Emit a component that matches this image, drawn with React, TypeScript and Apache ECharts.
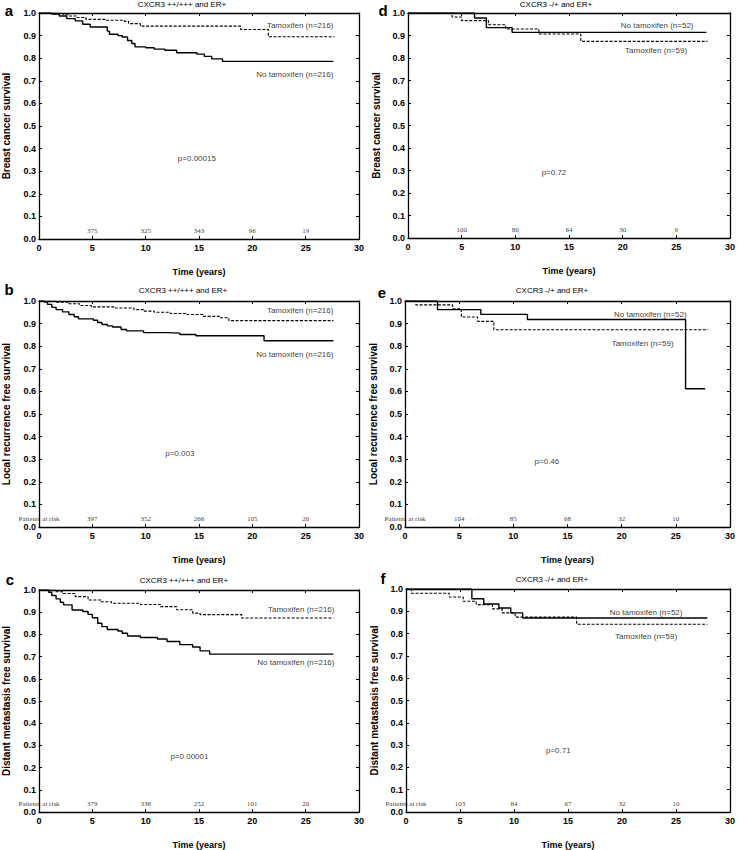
import React, { useEffect, useRef } from "react";
import * as echarts from "echarts";

// ---------- data ----------
const xTickYears = [0, 5, 10, 15, 20, 25, 30];
const riskYears = [5, 10, 15, 20, 25];

const aNoTamoxifen = [[0, 1], [0.7, 1], [1.2, 0.995], [1.9, 0.987], [2.6, 0.975], [3.4, 0.965], [4.1, 0.95], [4.8, 0.938], [6.4, 0.92], [6.6, 0.906], [7.4, 0.9], [7.8, 0.894], [8.3, 0.878], [8.7, 0.865], [9.0, 0.85], [10.0, 0.846], [10.8, 0.84], [11.8, 0.835], [12.9, 0.824], [14.8, 0.818], [15.5, 0.808], [16.2, 0.797], [17.2, 0.786], [27.6, 0.786]];
const aTamoxifen = [[0, 1], [1.6, 0.997], [2.3, 0.992], [2.8, 0.987], [3.5, 0.98], [4.4, 0.972], [6.2, 0.968], [8.0, 0.963], [8.4, 0.953], [9.5, 0.942], [18.9, 0.927], [21.5, 0.895], [27.7, 0.895]];
const aRisk = [375, 325, 343, 96, 19];

const bNoTamoxifen = [[0, 1], [0.5, 0.995], [0.8, 0.985], [1.2, 0.972], [1.6, 0.962], [2.2, 0.952], [2.8, 0.94], [3.3, 0.93], [3.7, 0.921], [5.1, 0.915], [5.5, 0.905], [5.9, 0.896], [6.4, 0.89], [6.9, 0.885], [7.7, 0.874], [8.2, 0.868], [9.8, 0.86], [12.0, 0.858], [13.2, 0.852], [14.7, 0.846], [21.1, 0.824], [27.6, 0.824]];
const bTamoxifen = [[0, 1], [1.5, 0.995], [2.8, 0.988], [3.8, 0.98], [4.9, 0.974], [7.1, 0.969], [8.9, 0.962], [9.8, 0.955], [10.8, 0.95], [12.3, 0.945], [13.8, 0.94], [15.4, 0.932], [16.9, 0.926], [17.8, 0.913], [27.6, 0.913]];
const bRisk = [397, 352, 266, 105, 20];

const cNoTamoxifen = [[0, 1], [0.7, 1], [0.9, 0.99], [1.2, 0.975], [1.6, 0.96], [2.0, 0.945], [2.3, 0.933], [3.1, 0.91], [4.1, 0.903], [4.6, 0.89], [5.0, 0.875], [5.5, 0.85], [5.9, 0.835], [6.4, 0.822], [7.4, 0.815], [7.8, 0.805], [8.3, 0.793], [9.5, 0.786], [11.1, 0.779], [12.0, 0.768], [13.2, 0.754], [14.4, 0.743], [15.1, 0.726], [16.0, 0.711], [27.6, 0.711]];
const cTamoxifen = [[0, 1], [0.9, 1], [1.5, 0.992], [2.2, 0.984], [3.4, 0.97], [4.6, 0.955], [5.8, 0.947], [6.8, 0.94], [9.5, 0.935], [11.4, 0.925], [12.9, 0.911], [14.4, 0.896], [15.1, 0.889], [19.0, 0.874], [27.6, 0.874]];
const cRisk = [379, 338, 252, 101, 20];

const dNoTamoxifen = [[0, 1], [6.2, 0.978], [7.3, 0.935], [9.7, 0.914], [27.8, 0.914]];
const dTamoxifen = [[0, 1], [4.1, 0.982], [5.0, 0.966], [7.5, 0.948], [9.1, 0.929], [12.2, 0.907], [16.1, 0.874], [27.9, 0.874]];
const dRisk = [100, 80, 64, 30, 9];

const eNoTamoxifen = [[0, 1], [3.0, 0.962], [7.0, 0.941], [11.3, 0.918], [25.9, 0.612], [27.7, 0.612]];
const eTamoxifen = [[0, 1], [1.0, 0.983], [4.4, 0.966], [5.2, 0.929], [6.7, 0.91], [8.2, 0.873], [28.0, 0.873]];
const eRisk = [104, 85, 68, 32, 10];

const fNoTamoxifen = [[0, 1], [6.1, 0.956], [7.2, 0.933], [8.6, 0.915], [9.7, 0.893], [10.8, 0.87], [27.9, 0.87]];
const fTamoxifen = [[0, 1], [0.5, 0.981], [4.0, 0.964], [5.3, 0.945], [6.5, 0.93], [8.0, 0.911], [8.9, 0.893], [10.1, 0.874], [15.8, 0.842], [27.9, 0.842]];
const fRisk = [103, 84, 67, 32, 10];

const titleHigh = "CXCR3 ++/+++ and ER+";
const titleLow = "CXCR3 -/+ and ER+";

// ---------- layout / styles ----------
const SANS = '"Liberation Sans", Arial, sans-serif';
const SERIF = '"Liberation Serif", "Times New Roman", serif';
const BLACK = "#000";

const panels = [
  {
    letter: "a", title: titleHigh, yName: "Breast cancer survival",
    grid: { left: 33, top: 13, width: 326, height: 226 },
    noTam: aNoTamoxifen, tam: aTamoxifen, risk: aRisk, riskHeader: false,
    noTamLabel: "No tamoxifen (n=216)", tamLabel: "Tamoxifen (n=216)",
    noTamPos: [27.6, 0.727], tamPos: [27.6, 0.945],
    p: "p=0.00015", pPos: [14.8, 0.357],
    titlePos: [182, 4], letterPos: [9, 10],
  },
  {
    letter: "b", title: titleHigh, yName: "Local recurrence free survival",
    grid: { left: 33, top: 301, width: 326, height: 226 },
    noTam: bNoTamoxifen, tam: bTamoxifen, risk: bRisk, riskHeader: true,
    noTamLabel: "No tamoxifen (n=216)", tamLabel: "Tamoxifen (n=216)",
    noTamPos: [27.6, 0.765], tamPos: [27.6, 0.956],
    p: "p=0.003", pPos: [13.2, 0.324],
    titlePos: [183, 290], letterPos: [9, 289],
  },
  {
    letter: "c", title: titleHigh, yName: "Distant metastasis free survival",
    grid: { left: 33, top: 590, width: 326, height: 227 },
    noTam: cNoTamoxifen, tam: cTamoxifen, risk: cRisk, riskHeader: true,
    noTamLabel: "No tamoxifen (n=216)", tamLabel: "Tamoxifen (n=216)",
    noTamPos: [27.7, 0.672], tamPos: [27.7, 0.911],
    p: "p=0.00001", pPos: [14.1, 0.249],
    titlePos: [184, 580], letterPos: [10, 579],
  },
  {
    letter: "d", title: titleLow, yName: "Breast cancer survival",
    grid: { left: 408, top: 13, width: 324, height: 225 },
    noTam: dNoTamoxifen, tam: dTamoxifen, risk: dRisk, riskHeader: false,
    noTamLabel: "No tamoxifen (n=52)", tamLabel: "Tamoxifen (n=59)",
    noTamPos: [26.6, 0.944], tamPos: [26.0, 0.834],
    p: "p=0.72", pPos: [13.6, 0.29],
    titlePos: [556, 4], letterPos: [383, 10],
  },
  {
    letter: "e", title: titleLow, yName: "Local recurrence free survival",
    grid: { left: 405, top: 301, width: 328, height: 226 },
    noTam: eNoTamoxifen, tam: eTamoxifen, risk: eRisk, riskHeader: true,
    noTamLabel: "No tamoxifen (n=52)", tamLabel: "Tamoxifen (n=59)",
    noTamPos: [26.0, 0.941], tamPos: [24.8, 0.811],
    p: "p=0.46", pPos: [13.1, 0.288],
    titlePos: [552, 290], letterPos: [382, 292],
  },
  {
    letter: "f", title: titleLow, yName: "Distant metastasis free survival",
    grid: { left: 406, top: 589, width: 327, height: 228 },
    noTam: fNoTamoxifen, tam: fTamoxifen, risk: fRisk, riskHeader: true,
    noTamLabel: "No tamoxifen (n=52)", tamLabel: "Tamoxifen (n=59)",
    noTamPos: [25.6, 0.894], tamPos: [25.1, 0.788],
    p: "p=0.71", pPos: [14.1, 0.276],
    titlePos: [552, 579], letterPos: [383, 578],
  },
];

const frameLine = { color: BLACK, width: 1.3 };

function buildOption() {
  const grid: any[] = [];
  const xAxis: any[] = [];
  const yAxis: any[] = [];
  const series: any[] = [];
  const graphic: any[] = [];

  panels.forEach((pn, i) => {
    grid.push({ ...pn.grid, containLabel: false });
    const xBase = {
      gridIndex: i, type: "value", min: xTickYears[0], max: xTickYears[xTickYears.length - 1], interval: 5,
      splitLine: { show: false },
      axisLine: { show: true, onZero: false, lineStyle: frameLine },
      axisTick: { show: true, inside: true, length: 3, lineStyle: { color: BLACK, width: 1 } },
    };
    xAxis.push({
      ...xBase, position: "bottom",
      name: "Time (years)", nameLocation: "middle", nameGap: 28,
      nameTextStyle: { fontFamily: SANS, fontSize: 9, fontWeight: "bold", color: BLACK },
      axisLabel: { show: true, fontFamily: SANS, fontSize: 9, fontWeight: "bold", color: BLACK, margin: 4 },
    });
    xAxis.push({ ...xBase, position: "top", axisLabel: { show: false } });

    const yBase = {
      gridIndex: i, type: "value", min: 0, max: 1, interval: 0.1,
      splitLine: { show: false },
      axisLine: { show: true, onZero: false, lineStyle: frameLine },
      axisTick: { show: true, inside: true, length: 3, lineStyle: { color: BLACK, width: 1 } },
    };
    yAxis.push({
      ...yBase, position: "left",
      name: pn.yName, nameLocation: "middle", nameGap: i < 3 ? 28 : 27, nameRotate: 90,
      nameTextStyle: { fontFamily: SANS, fontSize: 10, fontWeight: "bold", color: BLACK },
      axisLabel: {
        show: true, fontFamily: SANS, fontSize: 9, fontWeight: "bold", color: BLACK, margin: 3,
        formatter: (v: number) => v.toFixed(1),
      },
    });
    yAxis.push({ ...yBase, position: "right", axisLabel: { show: false } });

    const xi = 2 * i;
    const yi = 2 * i;

    series.push({
      name: pn.tamLabel, type: "line", xAxisIndex: xi, yAxisIndex: yi, step: "end",
      showSymbol: false, symbol: "none", data: pn.tam, silent: true, z: 3,
      lineStyle: { color: BLACK, width: 1.1, type: [3, 1.6] },
    });
    series.push({
      name: pn.noTamLabel, type: "line", xAxisIndex: xi, yAxisIndex: yi, step: "end",
      showSymbol: false, symbol: "none", data: pn.noTam, silent: true, z: 4,
      lineStyle: { color: BLACK, width: 1.4, type: "solid" },
    });

    // numbers at risk
    const riskData: any[] = pn.risk.map((n, k) => [riskYears[k], 0.035, String(n)]);
    if (pn.riskHeader) riskData.push([0, 0.035, "Patients at risk"]);
    series.push({
      type: "scatter", xAxisIndex: xi, yAxisIndex: yi, symbolSize: 0, silent: true, z: 5,
      data: riskData,
      label: {
        show: true, position: "inside", formatter: (p: any) => p.data[2],
        fontFamily: SERIF, fontSize: 7, color: BLACK,
      },
    });

    // curve labels (right aligned)
    series.push({
      type: "scatter", xAxisIndex: xi, yAxisIndex: yi, symbolSize: 0, silent: true, z: 5,
      data: [[pn.tamPos[0], pn.tamPos[1], pn.tamLabel], [pn.noTamPos[0], pn.noTamPos[1], pn.noTamLabel]],
      label: {
        show: true, position: "left", distance: 0, formatter: (p: any) => p.data[2],
        fontFamily: SANS, fontSize: 8, color: BLACK,
      },
    });
    // p value
    series.push({
      type: "scatter", xAxisIndex: xi, yAxisIndex: yi, symbolSize: 0, silent: true, z: 5,
      data: [[pn.pPos[0], pn.pPos[1], pn.p]],
      label: {
        show: true, position: "inside", formatter: (p: any) => p.data[2],
        fontFamily: SANS, fontSize: 8, color: BLACK,
      },
    });

    graphic.push({
      type: "text", x: pn.titlePos[0], y: pn.titlePos[1], silent: true,
      style: {
        text: pn.title, fill: BLACK, font: `8px ${SANS}`,
        textAlign: "center", textVerticalAlign: "middle", align: "center", verticalAlign: "middle",
      },
    });
    graphic.push({
      type: "text", x: pn.letterPos[0], y: pn.letterPos[1], silent: true,
      style: {
        text: pn.letter, fill: BLACK, font: `bold 15px ${SANS}`,
        textAlign: "center", textVerticalAlign: "middle", align: "center", verticalAlign: "middle",
      },
    });
  });

  return {
    animation: false,
    backgroundColor: "#fff",
    textStyle: { fontFamily: SANS },
    grid, xAxis, yAxis, series, graphic,
  };
}

export default function App() {
  const ref = useRef<HTMLDivElement>(null);
  useEffect(() => {
    if (!ref.current) return;
    const chart = echarts.init(ref.current, undefined, { renderer: "svg" });
    chart.setOption(buildOption() as any);
    return () => chart.dispose();
  }, []);
  return (
    <div
      ref={ref}
      style={{ position: "absolute", left: 0, top: 0, width: 738, height: 850, background: "#fff" }}
    />
  );
}
